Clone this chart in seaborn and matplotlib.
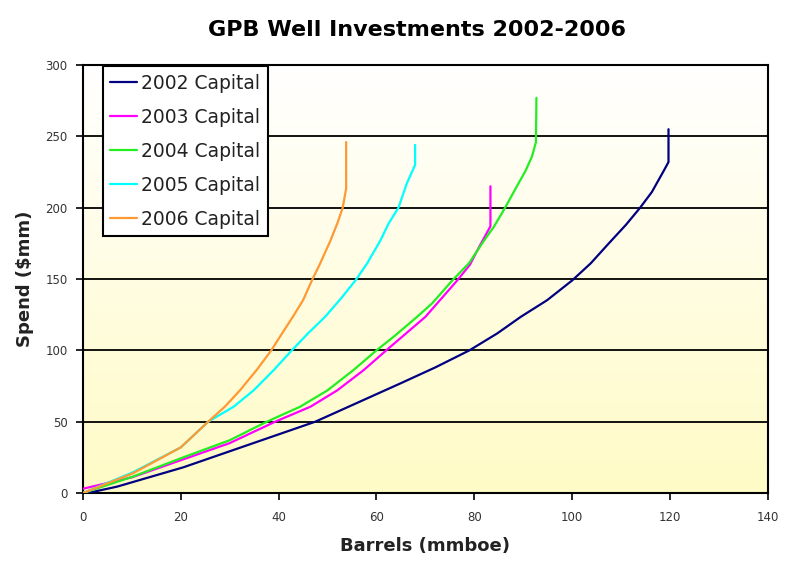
import numpy as np
import pandas as pd
import matplotlib.pyplot as plt
import seaborn as sns
from matplotlib.colors import LinearSegmentedColormap

# values
series_names = ["2002 Capital", "2003 Capital", "2004 Capital", "2005 Capital", "2006 Capital"]

barrels_2002 = [1, 7, 20.5, 34, 47.5, 65, 72, 79, 84.7, 89.5, 94.9, 100, 103.8,
                107.5, 111.0, 113.9, 116.3, 118.8, 119.7, 119.7]
spend_2002 = [0, 4.5, 18, 34, 50, 77, 88, 100, 111.9, 123.5, 135.2, 149, 161,
              175, 188, 200, 211, 226.3, 232, 255]

barrels_2003 = [0, 10, 20, 30, 39.3, 46.5, 52, 57.4, 62, 70, 76.5, 79.1, 80.6, 83.3, 83.3]
spend_2003 = [3, 11, 23, 35, 50, 60.5, 72, 86.2, 100, 123.5, 149, 160, 170, 187, 215]

barrels_2004 = [0, 10.2, 20.5, 30, 37.6, 44.4, 50, 55.3, 60, 63.5, 68.3, 71.4, 75.5,
                78.9, 82, 84, 86.3, 88.7, 90.5, 91.8, 92.6, 92.7]
spend_2004 = [0, 11.5, 25, 37, 50, 60.5, 72, 86.2, 100, 109.5, 123.5, 133, 149,
              161, 177, 186.6, 200, 215, 226, 236, 246, 277]

barrels_2005 = [0, 10.2, 20, 25.6, 30.8, 34.9, 39.0, 42.7, 46.0, 49.5, 52.9, 55.7,
                58.1, 60.8, 62.5, 64.5, 66.2, 67.9, 67.9]
spend_2005 = [0, 14.5, 32, 50, 60.5, 72, 86.2, 100, 111.9, 123.5, 137, 149,
              161, 177, 189, 200, 217, 230, 244]

barrels_2006 = [0, 10.2, 20, 25.6, 29.0, 32.1, 35.5, 38.5, 40.7, 42.9, 45.0, 46.8,
                48.5, 50.6, 52, 53.1, 53.8, 53.8]
spend_2006 = [0, 13.8, 32, 50, 60.5, 72, 86.2, 100, 111.9, 123.5, 135.2, 149,
              161, 177, 189, 200, 213.5, 246]

x_ticks = [0, 20, 40, 60, 80, 100, 120, 140]
y_ticks = [0, 50, 100, 150, 200, 250, 300]

colors = ["#000080", "#FF00FF", "#22EE22", "#00FFFF", "#FF9933"]

all_x = [barrels_2002, barrels_2003, barrels_2004, barrels_2005, barrels_2006]
all_y = [spend_2002, spend_2003, spend_2004, spend_2005, spend_2006]

frames = []
for name, xs, ys in zip(series_names, all_x, all_y):
    frames.append(pd.DataFrame({"Barrels": xs, "Spend": ys, "Series": name}))
df = pd.concat(frames, ignore_index=True)

sns.set_style("ticks")
plt.rcParams["font.family"] = ["DejaVu Sans"]

fig = plt.figure(figsize=(7.94, 5.63), dpi=100)
ax = fig.add_axes([0.1045, 0.1243, 0.8625, 0.7602])

# white-to-cream gradient behind the plot
bg = LinearSegmentedColormap.from_list("bg", ["#FFFFFF", "#FFFBC6"])
ax.imshow(np.linspace(1, 0, 256).reshape(-1, 1), cmap=bg, aspect="auto",
          extent=[0, 140, 0, 300], origin="lower", zorder=0)

sns.lineplot(data=df, x="Barrels", y="Spend", hue="Series", palette=colors,
             sort=False, estimator=None, linewidth=1.6, ax=ax, zorder=3)
for line in ax.get_lines():
    line.set_solid_joinstyle("round")

ax.set_xlim(0, 140)
ax.set_ylim(0, 300)
ax.set_xticks(x_ticks)
ax.set_yticks(y_ticks)
ax.yaxis.grid(True, color="black", linewidth=1.3)
ax.set_axisbelow(True)

for side in ["left", "bottom", "right", "top"]:
    ax.spines[side].set_visible(True)
    ax.spines[side].set_color("black")
    ax.spines[side].set_linewidth(1.5)

ax.tick_params(axis="both", direction="out", length=5, width=1.2, color="black",
               labelsize=8.5, labelcolor="#333333")
ax.tick_params(axis="x", pad=8)
ax.tick_params(axis="y", pad=6)

ax.set_xlabel("Barrels (mmboe)", fontsize=13, fontweight="bold", color="#222222", labelpad=9)
ax.set_ylabel("Spend ($mm)", fontsize=13, fontweight="bold", color="#222222", labelpad=8)

leg = ax.legend(loc="upper left", bbox_to_anchor=(0.029, 0.997), borderaxespad=0,
                fontsize=13.5, frameon=True, fancybox=False, handlelength=1.4,
                handletextpad=0.25, labelspacing=0.8, borderpad=0.4)
leg.get_frame().set_edgecolor("black")
leg.get_frame().set_linewidth(1.5)
leg.get_frame().set_facecolor("white")
leg.get_frame().set_alpha(1)
for t in leg.get_texts():
    t.set_color("#222222")
for line in leg.get_lines():
    line.set_linewidth(1.6)

fig.text(0.525, 0.947, "GPB Well Investments 2002-2006", ha="center", va="center",
         fontsize=16, fontweight="bold", color="black")

fig.savefig("out.png", dpi=100)
